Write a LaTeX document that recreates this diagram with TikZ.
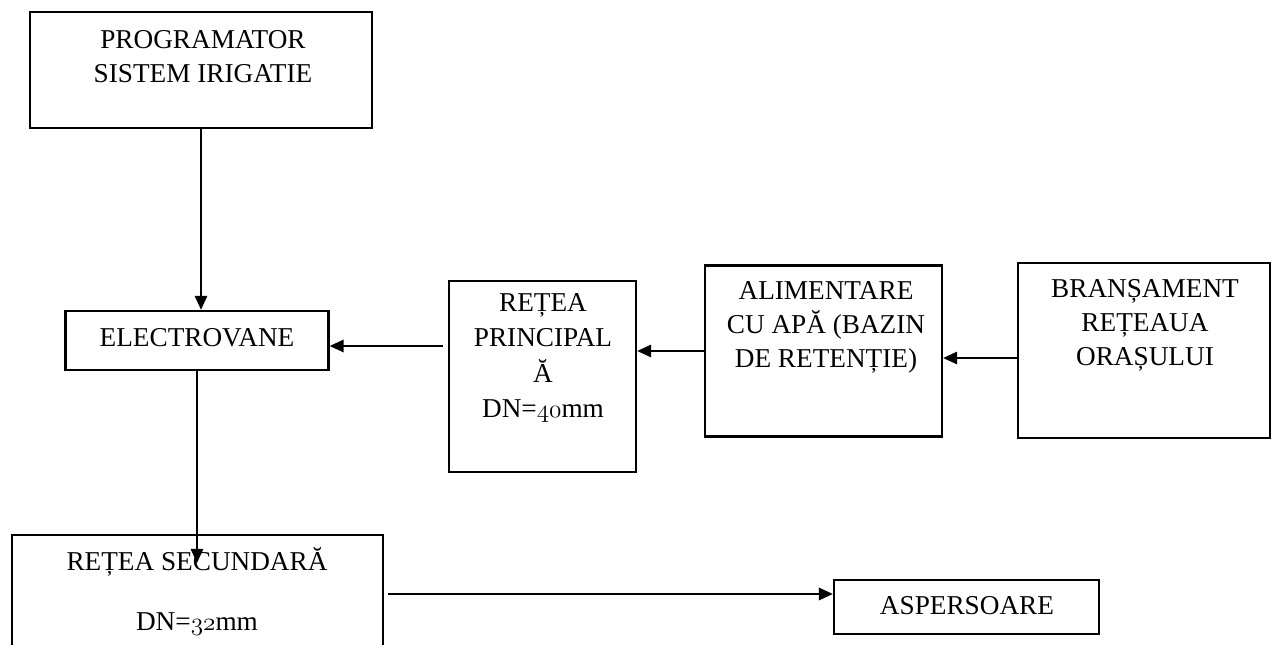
\documentclass[tikz,border=0pt]{standalone}
\usepackage{fontspec}
\setmainfont{Liberation Serif}
\usetikzlibrary{arrows.meta,calc}
\newcommand{\osn}[1]{{\usefont{OML}{cmm}{m}{it}#1}}
\begin{document}
\begin{tikzpicture}[x=0.02cm,y=-0.02cm,
  box/.style={draw,line width=1.3pt,rectangle,inner sep=0pt},
  lbl/.style={align=center,inner sep=0pt,font=\fontsize{15.5}{19.3}\selectfont},
  arr/.style={line width=1.2pt,-{Triangle[length=8pt,width=7pt]}}]
\useasboundingbox (0,0) rectangle (1275,645);
\fill[white] (0,0) rectangle (1275,645);
\clip (0,0) rectangle (1275,645);
% boxes
\node[box,minimum width=6.84cm,minimum height=2.32cm] (prog) at (201,70) {};
\node[box,minimum width=5.26cm,minimum height=1.18cm] (elec) at (197,340.5) {};
\node[box,minimum width=3.74cm,minimum height=3.82cm] (rp) at (542.5,376.5) {};
\node[box,minimum width=4.74cm,minimum height=3.42cm] (ali) at (823.5,351) {};
\node[box,minimum width=5.04cm,minimum height=3.5cm] (bra) at (1144,350.5) {};
\node[box,minimum width=7.42cm,minimum height=2.5cm] (rs) at (197.5,597.5) {};
\node[box,minimum width=5.3cm,minimum height=1.08cm] (asp) at (966.5,607) {};
% labels
\node[lbl] (tprog) at (203,57) {PROGRAMATOR\\SISTEM IRIGATIE};
\node[lbl] (telec) at (197,338) {ELECTROVANE};
\node[lbl,font=\fontsize{15.5}{20}\selectfont] (trp) at (543,358) {REȚEA\\PRINCIPAL\\Ă\\DN=\osn{40}mm};
\node[lbl] (tali) at (826,327) {ALIMENTARE\\CU APĂ (BAZIN\\DE RETENȚIE)};
\node[lbl] (tbra) at (1145,325) {BRANȘAMENT\\REȚEAUA\\ORAȘULUI};
\node[lbl] (trs1) at (197,562) {REȚEA SECUNDARĂ};
\node[lbl] (trs2) at (197,624) {DN=\osn{32}mm};
\node[lbl] (tasp) at (967,606) {ASPERSOARE};
% connectors
\coordinate (c1) at (443,346);
\coordinate (c2) at (388,594);
\coordinate (c3) at (1018,358);
\coordinate (rstip) at (197,563);
\draw[arr] (prog.south) -- (prog.south |- elec.north);
\draw[arr] (elec.south) -- (rstip);
\draw[arr] (c1) -- (c1 -| elec.east);
\draw[arr] (ali.west) -- (ali.west -| rp.east);
\draw[arr] (c3) -- (c3 -| ali.east);
\draw[arr] (c2) -- (c2 -| asp.west);
\end{tikzpicture}
\end{document}
